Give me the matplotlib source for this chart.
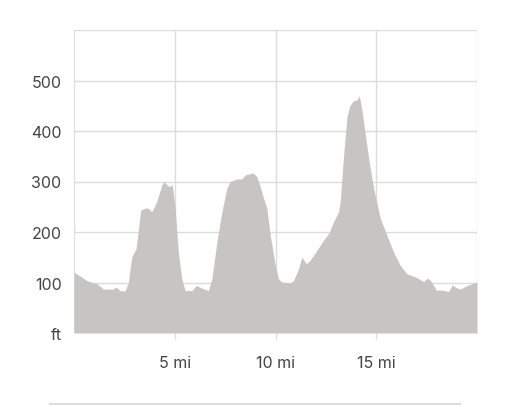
import matplotlib
matplotlib.use("Agg")
import matplotlib.pyplot as plt
from matplotlib.lines import Line2D

# Elevation profile (distance in miles, elevation in feet)
miles = [0.0, 0.3, 0.63, 0.96, 1.13, 1.37, 1.45, 1.95, 2.09, 2.28, 2.53, 2.7,
         2.86, 3.08, 3.31, 3.58, 3.74, 3.86, 4.1, 4.36, 4.47, 4.64, 4.77, 4.88,
         5.02, 5.18, 5.35, 5.51, 5.85, 6.06, 6.34, 6.67, 6.84, 7.09, 7.34, 7.58,
         7.75, 8.08, 8.33, 8.5, 8.88, 9.07, 9.24, 9.4, 9.57, 9.74, 9.99, 10.15,
         10.32, 10.73, 10.9, 11.14, 11.31, 11.53, 11.72, 12.06, 12.39, 12.64,
         12.88, 13.13, 13.21, 13.38, 13.55, 13.68, 13.84, 14.04, 14.16, 14.29,
         14.46, 14.62, 14.87, 15.2, 15.53, 15.86, 16.19, 16.53, 16.94, 17.35,
         17.57, 17.77, 17.98, 18.27, 18.6, 18.76, 19.01, 19.18, 19.51, 20.0]
elevation = [120, 113, 104, 99, 98, 90, 87, 87, 91, 84, 83, 100,
             150, 167, 243, 248, 245, 240, 260, 293, 300, 292, 290, 294,
             247, 160, 107, 84, 84, 94, 89, 84, 107, 180, 240, 286,
             300, 305, 305, 313, 317, 310, 290, 268, 247, 193, 134, 107,
             101, 99, 104, 127, 150, 137, 144, 164, 184, 197,
             220, 240, 260, 352, 429, 449, 459, 462, 469, 442,
             392, 346, 286, 227, 193, 160, 134, 117, 111, 102,
             109, 99, 85, 85, 82, 95, 89, 87, 94, 101]

x_ticks = [5, 10, 15]
x_tick_labels = ["5 mi", "10 mi", "15 mi"]
y_ticks = [0, 100, 200, 300, 400, 500]
y_tick_labels = ["ft", "100", "200", "300", "400", "500"]

plt.rcParams['font.family'] = ['Inter', 'DejaVu Sans']

fig = plt.figure(figsize=(5.12, 4.06), dpi=100)
ax = fig.add_axes([74/512, 1 - 334/406, (477-74)/512, (334-31)/406])

grid_c = "#dcdcdc"
ax.fill_between(miles, elevation, 0, color="#c6c5c1", linewidth=0, zorder=2)

ax.set_xlim(0, 20)
ax.set_ylim(0, 600)

for xv in [0, 5, 10, 15, 20]:
    ax.axvline(xv, color=grid_c, linewidth=1, zorder=1)
for yv in [100, 200, 300, 400, 500, 600]:
    ax.axhline(yv, color=grid_c, linewidth=1, zorder=1)
for s in ax.spines.values():
    s.set_visible(False)

ax.set_xticks(x_ticks)
ax.set_xticklabels(x_tick_labels)
ax.set_yticks(y_ticks)
ax.set_yticklabels(y_tick_labels)
ax.tick_params(axis='x', length=4, width=1, color=grid_c, pad=12,
               labelsize=11.5, labelcolor="#444444")
ax.tick_params(axis='y', length=0, pad=9, labelsize=11.5, labelcolor="#444444")

fig.add_artist(Line2D([50/512, 460/512], [1 - 405/406, 1 - 405/406],
                      color="#dddddd", linewidth=1.5, transform=fig.transFigure))

fig.savefig("out.png", dpi=100)
